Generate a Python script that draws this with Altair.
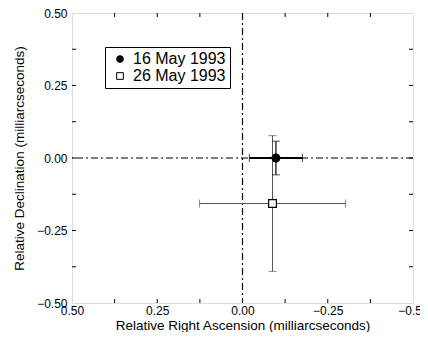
import altair as alt
import pandas as pd

# ---- data ----
dates = ["16 May 1993", "26 May 1993"]
ra = [-0.098, -0.088]          # relative right ascension (mas)
dec = [0.0, -0.157]            # relative declination (mas)
ra_err = [0.078, 0.214]
dec_err = [0.058, 0.234]
axis_values = [0.5, 0.25, 0.0, -0.25, -0.5]
minor_values = [-0.375, -0.25, -0.125, 0.0, 0.125, 0.25, 0.375]
zero = [0.0]

W, H = 341, 290
FONT = "Liberation Sans"

df = pd.DataFrame({"date": dates, "ra": ra, "dec": dec, "ra_err": ra_err, "dec_err": dec_err})
df["ra_lo"] = df["ra"] - df["ra_err"]
df["ra_hi"] = df["ra"] + df["ra_err"]
df["dec_lo"] = df["dec"] - df["dec_err"]
df["dec_hi"] = df["dec"] + df["dec_err"]
ticks_df = pd.DataFrame({"v": minor_values})
zero_df = pd.DataFrame({"v": zero})

xs = alt.Scale(domain=[-0.5, 0.5], reverse=True, nice=False, zero=False)
ys = alt.Scale(domain=[-0.5, 0.5], nice=False, zero=False)

xaxis = alt.Axis(values=axis_values, format=".2f", tickSize=0, domain=False, grid=False,
                 labelFlush=False, labelOverlap=False,
                 labelFontSize=12, labelPadding=2, labelColor="black", labelFont=FONT,
                 title="Relative Right Ascension (milliarcseconds)", titleFont=FONT,
                 titleFontSize=13.5, titleFontWeight="normal", titleColor="black", titlePadding=2)
yaxis = alt.Axis(values=axis_values, format=".2f", tickSize=0, domain=False, grid=False,
                 labelFlush=False, labelOverlap=False,
                 labelFontSize=12, labelPadding=5, labelColor="black", labelFont=FONT,
                 title="Relative Declination (milliarcseconds)", titleFont=FONT,
                 titleFontSize=13.5, titleFontWeight="normal", titleColor="black", titlePadding=10)

X = lambda f: alt.X(f, type="quantitative", scale=xs, axis=xaxis)
Y = lambda f: alt.Y(f, type="quantitative", scale=ys, axis=yaxis)

# zero lines (dash-dot)
vzero = alt.Chart(zero_df).mark_rule(color="black", strokeWidth=1.2, strokeDash=[7, 3, 2, 3]).encode(x=X("v"))
hzero = alt.Chart(zero_df).mark_rule(color="black", strokeWidth=1.2, strokeDash=[7, 3, 2, 3]).encode(y=Y("v"))

# inward frame ticks
tb = alt.Chart(ticks_df).mark_rule(color="black").encode(x=X("v"), y=alt.value(H), y2=alt.value(H - 4))
tt = alt.Chart(ticks_df).mark_rule(color="black").encode(x=X("v"), y=alt.value(0), y2=alt.value(4))
tl = alt.Chart(ticks_df).mark_rule(color="black").encode(y=Y("v"), x=alt.value(0), x2=alt.value(4))
tr = alt.Chart(ticks_df).mark_rule(color="black").encode(y=Y("v"), x=alt.value(W), x2=alt.value(W - 4))

d1 = df[df["date"] == dates[0]]
d2 = df[df["date"] == dates[1]]

def errbars(d, color, hw, vw):
    h = alt.Chart(d).mark_rule(color=color, strokeWidth=hw).encode(x=X("ra_lo"), x2="ra_hi", y=Y("dec"))
    v = alt.Chart(d).mark_rule(color=color, strokeWidth=vw).encode(y=Y("dec_lo"), y2="dec_hi", x=X("ra"))
    c1 = alt.Chart(d).mark_tick(color=color, orient="vertical", size=8, thickness=1).encode(x=X("ra_lo"), y=Y("dec"))
    c2 = alt.Chart(d).mark_tick(color=color, orient="vertical", size=8, thickness=1).encode(x=X("ra_hi"), y=Y("dec"))
    c3 = alt.Chart(d).mark_tick(color=color, orient="horizontal", size=8, thickness=1).encode(x=X("ra"), y=Y("dec_lo"))
    c4 = alt.Chart(d).mark_tick(color=color, orient="horizontal", size=8, thickness=1).encode(x=X("ra"), y=Y("dec_hi"))
    return [h, v, c1, c2, c3, c4]

legend = alt.Legend(title=None, orient="none", legendX=33, legendY=34, strokeColor="black",
                    fillColor="white", padding=4, symbolOffset=3, labelFontSize=16, labelFont=FONT,
                    labelColor="black", symbolSize=45, symbolStrokeWidth=1,
                    rowPadding=1, labelOffset=5)

points = alt.Chart(df).mark_point(size=60, strokeWidth=1.2, opacity=1, fillOpacity=1).encode(
    x=X("ra"), y=Y("dec"),
    shape=alt.Shape("date:N", scale=alt.Scale(domain=dates, range=["circle", "square"]), legend=legend),
    fill=alt.Fill("date:N", scale=alt.Scale(domain=dates, range=["black", "white"]), legend=legend),
    stroke=alt.Stroke("date:N", scale=alt.Scale(domain=dates, range=["black", "black"]), legend=legend),
)

layers = [vzero, hzero, tb, tt, tl, tr] + errbars(d2, "#555555", 1, 1) + errbars(d1, "black", 2, 1.2) + [points]

chart = alt.layer(*layers).properties(
    width=W, height=H,
    autosize=alt.AutoSizeParams(type="none"),
    padding={"left": 64, "top": 5, "right": 7, "bottom": 29},
).configure_view(stroke="black", strokeWidth=1.2).configure(background="white")

chart.save("out.html", embed_options={"renderer": "svg", "actions": False})
